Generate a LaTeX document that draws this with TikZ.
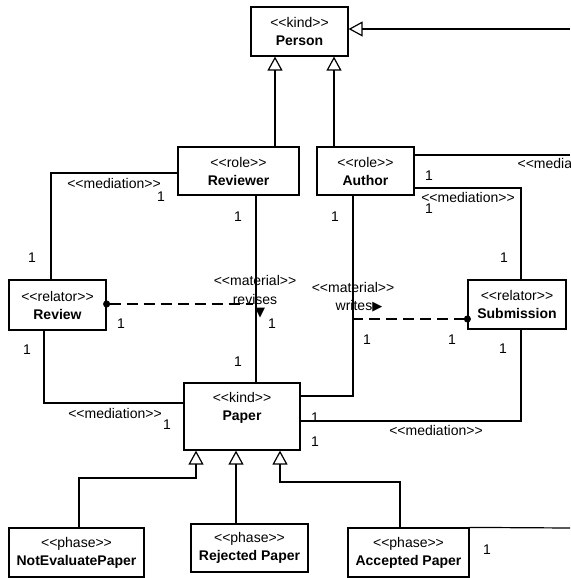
\documentclass[tikz,border=0pt]{standalone}
\usepackage{fontspec}
\setmainfont{Liberation Sans}
\newfontfamily\dejavu{DejaVu Sans}
\usetikzlibrary{arrows.meta}

\newcommand{\stereo}[1]{<\kern0pt<#1>\kern0pt>}

\begin{document}
\begin{tikzpicture}[
    x=1pt, y=-1pt,
    line width=1.2pt,
    cls/.style={draw,inner sep=0pt,align=center,font=\fontsize{14}{18}\selectfont},
    txt/.style={inner sep=0pt,align=center,font=\fontsize{14}{18}\selectfont},
    gen/.style={-{Triangle[open,length=14pt,width=15pt]}},
    mat/.style={{Circle[length=7pt]}-,dash pattern=on 11pt off 6pt,shorten <=-3.5pt},
]
    \useasboundingbox (0,0) rectangle (570,578);

    \node[cls,minimum width=97,minimum height=49] (person) at (299.5,31.5) {\stereo{kind}\\\textbf{Person}};
    \node[cls,minimum width=121,minimum height=48] (reviewer) at (238.5,171) {\stereo{role}\\\textbf{Reviewer}};
    \node[cls,minimum width=97,minimum height=48] (author) at (365.5,171) {\stereo{role}\\\textbf{Author}};
    \node[cls,minimum width=97,minimum height=50] (review) at (57.5,305) {\stereo{relator}\\\textbf{Review}};
    \node[cls,minimum width=98,minimum height=49] (submission) at (517,304.5) {\stereo{relator}\\\textbf{Submission}};
    \node[cls,minimum width=116,minimum height=67] (paper) at (242,416.5) {};
    \node[txt] (paperT) at (242,407.5) {\stereo{kind}\\\textbf{Paper}};
    \node[cls,minimum width=135,minimum height=49] (notevaluate) at (76.5,552.5) {\stereo{phase}\\\textbf{NotEvaluatePaper}};
    \node[cls,minimum width=117,minimum height=48] (rejected) at (249.5,548) {\stereo{phase}\\\textbf{Rejected Paper}};
    \node[cls,minimum width=121,minimum height=49] (accepted) at (408.5,552.5) {\stereo{phase}\\\textbf{Accepted Paper}};

    \coordinate (personR) at (570,29);
    \coordinate (authorR) at (570,155);
    \coordinate (acceptedR) at (570,528);
    \coordinate (revisesEnd) at (253,304);
    \coordinate (writesEnd) at (353,319);

    \draw[gen] (reviewer.north -| 275,0) -- (person.south -| 275,0);
    \draw[gen] (author.north -| 334,0) -- (person.south -| 334,0);
    \draw[gen] (personR) -- (person.east |- 0,29);

    \draw (reviewer.west |- 0,173) -| (review.north -| 51,0);
    \draw (review.south -| 44,0) |- (paper.west |- 0,403);
    \draw (reviewer.south -| 256,0) -- (paper.north -| 256,0);
    \draw (author.south -| 353,0) |- (paper.east |- 0,396);
    \draw (author.east |- 0,188) -| (submission.north -| 521,0);
    \draw (author.east |- 0,155) -- (authorR);
    \draw (submission.south -| 521,0) |- (paper.east |- 0,421);
    \draw[mat] (review.east |- 0,304) -- (revisesEnd);
    \draw[mat] (submission.west |- 0,319) -- (writesEnd);

    \draw[gen] (notevaluate.north -| 79,0) -- (79,478) -| (paper.south -| 196,0);
    \draw[gen] (rejected.north -| 236,0) -- (paper.south -| 236,0);
    \draw[gen] (accepted.north -| 400,0) -- (400,482) -| (paper.south -| 280,0);
    \draw (accepted.north east) -- (acceptedR);

    \node[txt] (medRevReview) at (114,183) {\stereo{mediation}};
    \node[txt] (medReviewPaper) at (115,413) {\stereo{mediation}};
    \node[txt] (medAuthorSub) at (468,197) {\stereo{mediation}};
    \node[txt,anchor=west] (medAuthorR) at (517,163) {\stereo{mediation}};
    \node[txt] (medSubPaper) at (436,430) {\stereo{mediation}};
    \node[txt] (matRevises) at (255,280) {\stereo{material}};
    \node[txt] (revises) at (255,299) {revises};
    \node[txt,font=\dejavu\fontsize{13}{13}\selectfont] (revisesTip) at (260,313) {▼};
    \node[txt] (matWrites) at (353,287) {\stereo{material}};
    \node[txt] (writes) at (359,306) {writes{\dejavu\fontsize{13}{13}\selectfont ▶}};

    \foreach \px/\py [count=\i] in {161/197, 32/258, 238/217, 238/362, 121/324, 272/324,
        27/350, 167/425, 335/217, 367/340, 452/340, 504/258, 503/349, 315/418,
        315/442, 429/176, 429/209, 487/550}
        \node[txt] (one\i) at (\px,\py) {1};
\end{tikzpicture}
\end{document}
